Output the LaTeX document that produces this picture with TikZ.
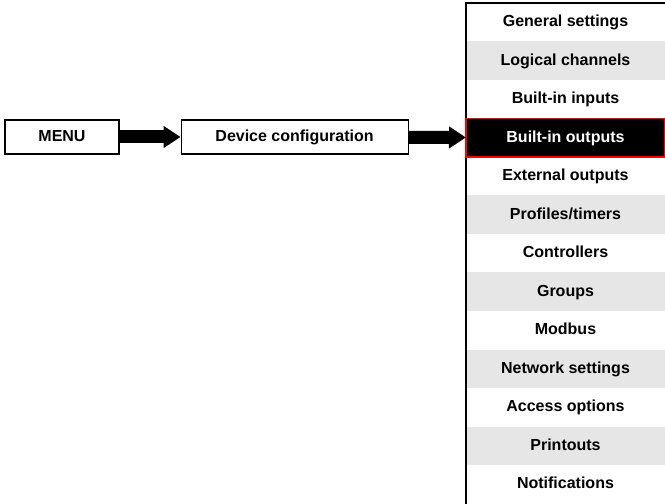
\documentclass[tikz,border=0pt]{standalone}
\usepackage{fontspec}
\setsansfont{Liberation Sans}
\usepackage{xcolor}
\usepackage{tikz}
\usetikzlibrary{arrows.meta, positioning}

\definecolor{rowgray}{HTML}{E6E6E6}

\begin{document}
\begin{tikzpicture}[
    box/.style={draw, rectangle, line width=0.6pt, minimum height=0.68cm, text height=1.6ex, text depth=0.45ex, font=\sffamily\bfseries\fontsize{9.1}{11}\selectfont},
    item/.style={rectangle, inner sep=0pt, outer sep=0pt, minimum width=3.98cm, minimum height=0.77cm, text height=1.6ex, text depth=0.45ex, font=\sffamily\bfseries\fontsize{9.1}{11}\selectfont},
    shade/.style={item, fill=rowgray},
    active/.style={item, fill=black, text=white, draw=red, line width=0.8pt},
    bigarrow/.style={-{Triangle[length=0.34cm, width=0.42cm]}, line width=0.26cm}
]
\useasboundingbox (0,0) rectangle (13.3,-10.08);

\node[box, minimum width=2.28cm] (menu) at (1.24,-2.74) {MENU};
\node[box, minimum width=4.54cm, right=1.22cm of menu] (device) {Device configuration};

% submenu column
\node[item, anchor=north west] (gen) at (9.32,-0.06) {General settings};
\node[shade, below=0pt of gen] (logic) {Logical channels};
\node[item, below=0pt of logic] (inputs) {Built-in inputs};
\node[active, below=0pt of inputs] (outputs) {Built-in outputs};
\node[item, below=0pt of outputs] (extout) {External outputs};
\node[shade, below=0pt of extout] (profiles) {Profiles/timers};
\node[item, below=0pt of profiles] (ctrl) {Controllers};
\node[shade, below=0pt of ctrl] (groups) {Groups};
\node[item, below=0pt of groups] (modbus) {Modbus};
\node[shade, below=0pt of modbus] (network) {Network settings};
\node[item, below=0pt of network] (access) {Access options};
\node[shade, below=0pt of access] (print) {Printouts};
\node[item, below=0pt of print] (notify) {Notifications};

\draw[line width=0.8pt] (gen.north east) -- (gen.north west) -- (notify.south west);
\draw[red, line width=0.8pt] (outputs.north west) rectangle (outputs.south east);

\draw[bigarrow] (menu) -- (device);
\draw[bigarrow] (device) -- (outputs);

\end{tikzpicture}
\end{document}
